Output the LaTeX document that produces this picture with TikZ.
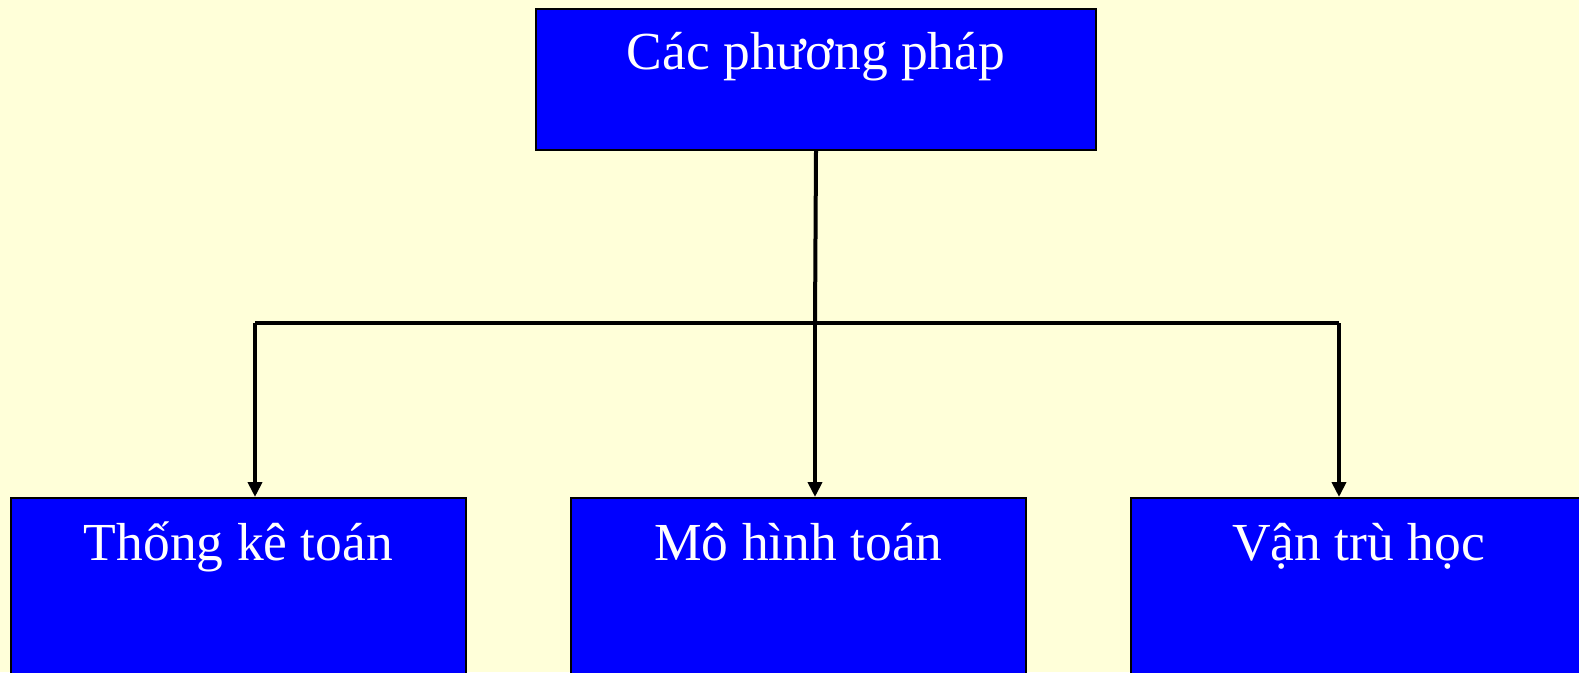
\documentclass[tikz,border=0pt]{standalone}
\usepackage{fontspec}
\setmainfont{Liberation Serif}
\usetikzlibrary{arrows.meta}
\definecolor{bgyellow}{RGB}{255,255,217}
\definecolor{boxblue}{RGB}{0,0,255}
\tikzset{
  bluebox/.style={draw=black, line width=2pt, fill=boxblue, rectangle, anchor=north west,
    minimum width=#1, minimum height=200pt, inner sep=0pt},
  boxtext/.style={text=white, font=\fontsize{53.5}{60}\selectfont, anchor=base},
  conn/.style={draw=black, line width=4pt},
  arr/.style={conn, -{Triangle[width=14pt,length=15pt]}}
}
\begin{document}
\begin{tikzpicture}[x=1pt,y=-1pt]
\fill[bgyellow] (0,0) rectangle (1579,672);
\useasboundingbox (0,0) rectangle (1579,672);
\clip (0,0) rectangle (1579,672);
\node[bluebox=560pt, minimum height=141pt] (top) at (535,8) {};
\node[boxtext] (ttop) at ([yshift=-61pt]top.north) {Các phương pháp};
\node[bluebox=455pt] (b1) at (10,497) {};
\node[bluebox=455pt] (b2) at (570,497) {};
\node[bluebox=455pt] (b3) at (1130,497) {};
\node[boxtext] (t1) at ([yshift=-63pt]b1.north) {Thống kê toán};
\node[boxtext] (t2) at ([yshift=-63pt]b2.north) {Mô hình toán};
\node[boxtext] (t3) at ([yshift=-63pt]b3.north) {Vận trù học};
\coordinate (jm) at (815,323);
\coordinate (jl) at (255,323);
\coordinate (jr) at (1339,323);
\draw[conn] (top.south) -- (jm);
\draw[conn] (jl) -- (jr);
\draw[arr] (jl) -- (jl |- b1.north);
\draw[arr] (jm) -- (jm |- b2.north);
\draw[arr] (jr) -- (jr |- b3.north);
\end{tikzpicture}
\end{document}
